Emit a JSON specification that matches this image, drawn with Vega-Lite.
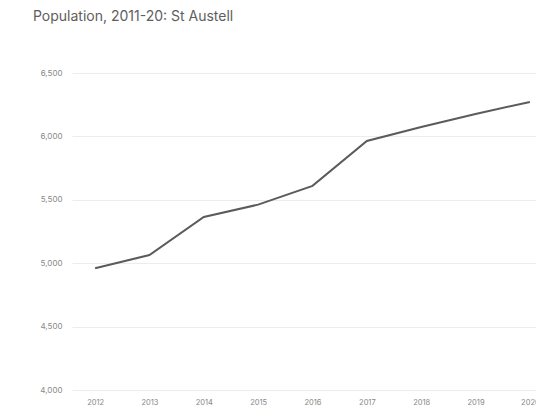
{
  "$schema": "https://vega.github.io/schema/vega-lite/v6.json",
  "autosize": {"type": "none"},
  "padding": {"left": 72, "top": 73, "right": 0, "bottom": 24},
  "width": 481,
  "height": 317,
  "background": "white",
  "title": {
    "text": "Population, 2011-20: St Austell",
    "anchor": "start",
    "frame": "group",
    "dx": -39,
    "offset": 45,
    "fontSize": 14,
    "fontWeight": "normal",
    "font": "Inter",
    "color": "#5e5e5e"
  },
  "data": {
    "values": [
      {"year": "2012", "population": 4960},
      {"year": "2013", "population": 5065},
      {"year": "2014", "population": 5364},
      {"year": "2015", "population": 5462},
      {"year": "2016", "population": 5610},
      {"year": "2017", "population": 5964},
      {"year": "2018", "population": 6074},
      {"year": "2019", "population": 6177},
      {"year": "2020", "population": 6272}
    ]
  },
  "mark": {"type": "line", "color": "#5b5b5b", "strokeWidth": 2},
  "encoding": {
    "x": {
      "field": "year",
      "type": "ordinal",
      "scale": {"type": "point", "padding": 0.425},
      "axis": {
        "title": null,
        "labelAngle": 0,
        "ticks": false,
        "domain": false,
        "grid": false,
        "labelPadding": 8,
        "labelFontSize": 7.5,
        "labelFont": "Inter",
        "labelColor": "#888888"
      }
    },
    "y": {
      "field": "population",
      "type": "quantitative",
      "scale": {"domain": [4000, 6500], "zero": false, "nice": false},
      "axis": {
        "title": null,
        "values": [4000, 4500, 5000, 5500, 6000, 6500],
        "format": ",d",
        "ticks": false,
        "domain": false,
        "labelPadding": 10,
        "labelFontSize": 8,
        "labelFont": "Inter",
        "labelColor": "#888888",
        "gridColor": "#ececec",
        "gridWidth": 1
      }
    }
  },
  "config": {"view": {"stroke": null}}
}
